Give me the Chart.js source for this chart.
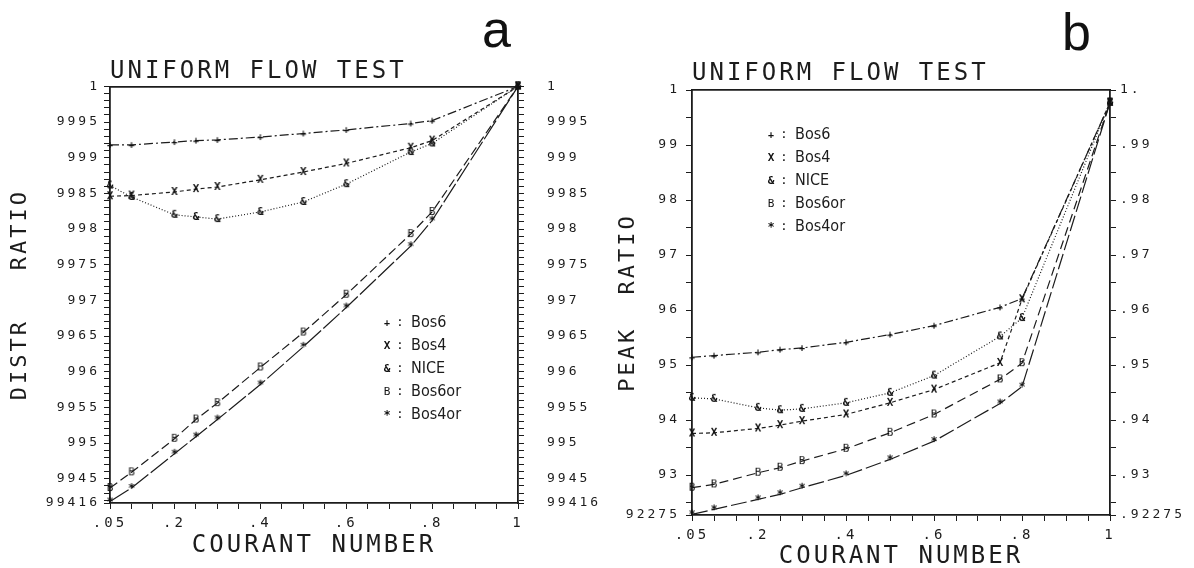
<!DOCTYPE html>
<html>
<head>
<meta charset="utf-8">
<script src="https://cdn.jsdelivr.net/npm/chart.js@4"></script>
<style>
html, body { margin: 0; padding: 0; background: #fff; width: 1194px; height: 568px; overflow: hidden; }
.panel { position: absolute; top: 0; height: 568px; }
#pa { left: 0; width: 620px; }
#pb { left: 590px; width: 604px; }
.tag { position: absolute; font-family: "Liberation Sans", Arial, sans-serif; font-size: 52px; line-height: 52px; color: #111; }
</style>
</head>
<body>
<div class="panel" id="pa"><canvas id="chartA"></canvas></div>
<div class="panel" id="pb"><canvas id="chartB"></canvas></div>
<div class="tag" style="left:482px;top:3px">a</div>
<div class="tag" style="left:1062px;top:6px">b</div>
<script>
// courant numbers at which each scheme was run
const courant = [0.05, 0.1, 0.2, 0.25, 0.3, 0.4, 0.5, 0.6, 0.75, 0.8, 1.0];

// panel a: distribution ratio
const distrBos6   = [0.99918, 0.99918, 0.99922, 0.99924, 0.99925, 0.99929, 0.99934, 0.99939, 0.99948, 0.99952, 1.0];
const distrBos4   = [0.99846, 0.99847, 0.99852, 0.99856, 0.99859, 0.99869, 0.99880, 0.99892, 0.99914, 0.99924, 1.0];
const distrNice   = [0.99861, 0.99845, 0.99820, 0.99817, 0.99814, 0.99824, 0.99838, 0.99863, 0.99908, 0.99920, 1.0];
const distrBos6or = [0.99437, 0.99459, 0.99506, 0.99533, 0.99556, 0.99606, 0.99655, 0.99708, 0.99793, 0.99824, 1.0];
const distrBos4or = [0.99418, 0.99437, 0.99485, 0.99509, 0.99533, 0.99582, 0.99635, 0.99690, 0.99776, 0.99812, 1.0];

// panel b: peak ratio
const peakBos6   = [0.95142, 0.95172, 0.95233, 0.95281, 0.95311, 0.95414, 0.95554, 0.95717, 0.96050, 0.96210, 0.9977];
const peakBos4   = [0.93757, 0.93769, 0.93848, 0.93908, 0.93981, 0.94102, 0.94314, 0.94555, 0.95040, 0.96196, 0.9977];
const peakNice   = [0.94404, 0.94386, 0.94223, 0.94180, 0.94204, 0.94314, 0.94495, 0.94809, 0.95520, 0.95855, 0.9977];
const peakBos6or = [0.92771, 0.92831, 0.93043, 0.93134, 0.93255, 0.93479, 0.93769, 0.94102, 0.94740, 0.95035, 0.9977];
const peakBos4or = [0.92287, 0.92377, 0.92559, 0.92650, 0.92771, 0.92995, 0.93285, 0.93617, 0.94301, 0.94607, 0.9977];

const seriesNames = ['Bos6', 'Bos4', 'NICE', 'Bos6or', 'Bos4or'];

// tick labels as printed on the plots
const courantTicks  = [0.05, 0.2, 0.4, 0.6, 0.8, 1];
const courantLabels = ['.05', '.2', '.4', '.6', '.8', '1'];
const distrTicks  = [1, 0.9995, 0.999, 0.9985, 0.998, 0.9975, 0.997, 0.9965, 0.996, 0.9955, 0.995, 0.9945, 0.99416];
const distrLabels = ['1', '9995', '999', '9985', '998', '9975', '997', '9965', '996', '9955', '995', '9945', '99416'];
const peakTicks       = [1, 0.99, 0.98, 0.97, 0.96, 0.95, 0.94, 0.93, 0.92275];
const peakLabelsLeft  = ['1', '99', '98', '97', '96', '95', '94', '93', '92275'];
const peakLabelsRight = ['1.', '.99', '.98', '.97', '.96', '.95', '.94', '.93', '.92275'];

const INK = '#1c1c1c';
const MONO = '"DejaVu Sans Mono", "Liberation Mono", monospace';

// little plotter glyphs used as point markers
function glyph(ch, px, bold) {
    const c = document.createElement('canvas');
    c.width = 16;
    c.height = 16;
    const g = c.getContext('2d');
    g.fillStyle = '#111';
    g.font = (bold ? 'bold ' : '') + px + 'px ' + MONO;
    g.textAlign = 'center';
    g.textBaseline = 'middle';
    g.fillText(ch, 8, 8.5);
    return c;
}
const marks = [glyph('+', 10, true), glyph('X', 11, true), glyph('&', 11, true), glyph('B', 11, false), glyph('*', 12, true)];

function makeSets(values, dashes) {
    return values.map((vals, k) => ({
        label: seriesNames[k],
        data: courant.map((c, i) => ({ x: c, y: vals[i] })),
        borderColor: INK,
        borderWidth: 1.2,
        borderDash: dashes[k],
        pointStyle: marks[k],
        pointRadius: 5,
        pointHoverRadius: 5,
        tension: 0,
        fill: false,
        clip: false,
    }));
}

function tickList(lo, hi, step, extra) {
    const out = [];
    const n = Math.round((hi - lo) / step);
    for (let i = 0; i <= n; i++) out.push({ value: +(lo + i * step).toFixed(6) });
    extra.forEach(v => out.push({ value: v }));
    return out.sort((a, b) => a.value - b.value);
}

function labelFor(value, ticks, labels) {
    const k = ticks.findIndex(t => Math.abs(t - value) < 1e-7);
    return k < 0 ? '' : labels[k];
}

function yAxis(pos, lo, hi, step, first, ticks, labels, width, pad, title, titlePad) {
    return {
        type: 'linear',
        position: pos,
        min: lo,
        max: hi,
        afterBuildTicks: s => { s.ticks = tickList(first, hi, step, [lo]); },
        afterFit: s => { s.width = width; },
        ticks: {
            autoSkip: false,
            padding: pad,
            color: INK,
            font: { family: MONO, size: 13 },
            callback: v => labelFor(v, ticks, labels),
        },
        grid: {
            drawOnChartArea: false,
            tickLength: 6,
            tickWidth: 1,
            tickColor: INK,
        },
        border: { color: INK, width: 1.8 },
        title: {
            display: !!title,
            text: title,
            color: INK,
            font: { family: MONO, size: 22 },
            padding: { top: titlePad, bottom: 0 },
        },
    };
}

function xAxis(height, titlePad) {
    return {
        type: 'linear',
        position: 'bottom',
        min: 0.05,
        max: 1,
        afterBuildTicks: s => { s.ticks = tickList(0.05, 1, 0.05, []); },
        afterFit: s => { s.height = height; },
        ticks: {
            autoSkip: false,
            maxRotation: 0,
            minRotation: 0,
            padding: 6,
            color: INK,
            font: { family: MONO, size: 14 },
            callback: v => labelFor(v, courantTicks, courantLabels),
        },
        grid: { drawOnChartArea: false, tickLength: 6, tickColor: INK },
        border: { color: INK, width: 1.8 },
        title: {
            display: true,
            text: 'COURANT NUMBER',
            color: INK,
            font: { family: MONO, size: 24 },
            padding: { top: 0, bottom: titlePad },
        },
    };
}

const topFrame = {
    type: 'linear',
    position: 'top',
    min: 0.05,
    max: 1,
    afterFit: s => { s.height = 0; },
    ticks: { display: false },
    grid: { display: false },
    border: { color: INK, width: 1.8 },
};

// plotter lettering is widely spaced
const spacing = {
    id: 'spacing',
    beforeDraw(chart) { chart.ctx.letterSpacing = '3px'; },
};

// key printed inside the plot frame
const keyBox = {
    id: 'keyBox',
    afterDatasetsDraw(chart, args, opts) {
        const ctx = chart.ctx;
        ctx.save();
        ctx.letterSpacing = '0px';
        ctx.fillStyle = INK;
        ctx.textBaseline = 'middle';
        chart.data.datasets.forEach((ds, k) => {
            const y = opts.y + k * opts.gap;
            ctx.drawImage(ds.pointStyle, opts.x - 8, y - 8);
            ctx.font = '13px ' + MONO;
            ctx.textAlign = 'center';
            ctx.fillText(':', opts.x + 13, y);
            ctx.font = '16px "DejaVu Sans Condensed", "Liberation Sans Narrow", "DejaVu Sans", sans-serif';
            ctx.textAlign = 'left';
            ctx.fillText(ds.label, opts.x + 24, y);
        });
        ctx.restore();
    },
};

function titleOpts(padTop, padBottom) {
    return {
        display: true,
        text: 'UNIFORM FLOW TEST',
        align: 'start',
        fullSize: false,
        color: INK,
        font: { family: MONO, size: 24, weight: 'normal' },
        padding: { top: padTop, bottom: padBottom },
    };
}

const chartA = new Chart(document.getElementById('chartA'), {
    type: 'line',
    data: {
        datasets: makeSets(
            [distrBos6, distrBos4, distrNice, distrBos6or, distrBos4or],
            [[9, 3, 2, 3], [4, 3], [1, 2], [9, 4], [22, 3]]
        ),
    },
    options: {
        responsive: true,
        maintainAspectRatio: false,
        animation: false,
        events: [],
        layout: { padding: 0 },
        scales: {
            x: xAxis(65, 7.6),
            xTop: topFrame,
            y: yAxis('left', 0.99416, 1, 0.0001, 0.9942, distrTicks, distrLabels, 110, 4, 'DISTR   RATIO', 6.8),
            y2: yAxis('right', 0.99416, 1, 0.0001, 0.9942, distrTicks, distrLabels, 102, 23, '', 0),
        },
        plugins: {
            legend: { display: false },
            tooltip: { enabled: false },
            title: titleOpts(57.6, 0),
            keyBox: { x: 387, y: 323, gap: 23 },
        },
    },
    plugins: [spacing, keyBox],
});

const chartB = new Chart(document.getElementById('chartB'), {
    type: 'line',
    data: {
        datasets: makeSets(
            [peakBos6, peakBos4, peakNice, peakBos6or, peakBos4or],
            [[9, 3, 2, 3], [4, 3], [1, 2], [9, 5], [16, 4]]
        ),
    },
    options: {
        responsive: true,
        maintainAspectRatio: false,
        animation: false,
        events: [],
        layout: { padding: 0 },
        scales: {
            x: xAxis(53, -3.4),
            xTop: topFrame,
            y: yAxis('left', 0.92275, 1, 0.005, 0.925, peakTicks, peakLabelsLeft, 102, 6, 'PEAK  RATIO', 24.8),
            y2: yAxis('right', 0.92275, 1, 0.005, 0.925, peakTicks, peakLabelsRight, 84, 4, '', 0),
        },
        plugins: {
            legend: { display: false },
            tooltip: { enabled: false },
            title: titleOpts(59.6, 1.6),
            keyBox: { x: 181, y: 135, gap: 23 },
        },
    },
    plugins: [spacing, keyBox],
});
</script>
</body>
</html>
